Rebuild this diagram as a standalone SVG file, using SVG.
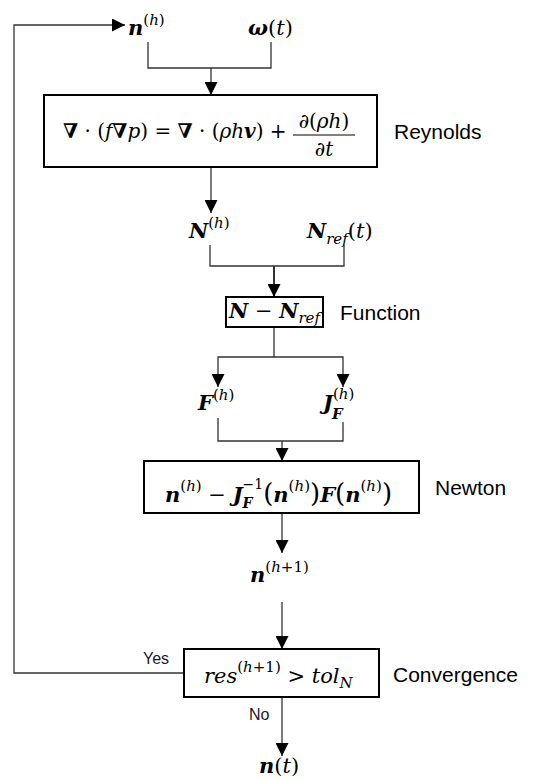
<svg xmlns="http://www.w3.org/2000/svg" width="539" height="781" viewBox="0 0 539 781">
<style>
.m{font-family:"DejaVu Serif","Liberation Serif",serif;font-size:21px;fill:#000}
.bi{font-weight:bold;font-style:italic}
.b{font-weight:bold}
.i{font-style:italic}
.s{font-size:15px}
.ss{font-size:14px}
.lbl{font-family:"Liberation Sans",Arial,sans-serif;font-size:21px;fill:#000}
.yn{font-family:"Liberation Sans",Arial,sans-serif;font-size:16px;fill:#1a1a2a}
.box{fill:#fff;stroke:#000;stroke-width:2}
.c{fill:none;stroke:#333;stroke-width:1.3}
</style>
<defs>
<marker id="ah" markerUnits="userSpaceOnUse" markerWidth="13" markerHeight="13" refX="13" refY="6.5" orient="auto">
<path d="M0,0 L13,6.5 L0,13 Z" fill="#000"/>
</marker>
</defs>
<rect width="539" height="781" fill="#fff"/>
<g id="connectors">
<path class="c" d="M148,42 V68 H271 V42"/>
<path class="c" d="M211,68 V95" marker-end="url(#ah)"/>
<path class="c" d="M211,167 V213" marker-end="url(#ah)"/>
<path class="c" d="M210,245 V266 H344 V245"/>
<path class="c" d="M274,266 V297" marker-end="url(#ah)" style="stroke-width:2"/>
<path class="c" d="M274,327 V357 H218 V387" marker-end="url(#ah)"/>
<path class="c" d="M274,357 H343 V387" marker-end="url(#ah)"/>
<path class="c" d="M218,418 V441 H343 V422"/>
<path class="c" d="M282,441 V461" marker-end="url(#ah)"/>
<path class="c" d="M282,513 V553" marker-end="url(#ah)"/>
<path class="c" d="M282,602 V649" marker-end="url(#ah)"/>
<path class="c" d="M282,697 V756" marker-end="url(#ah)"/>
<path class="c" d="M184,673 H14 V25 H125" marker-end="url(#ah)"/>
<text class="yn" x="143" y="664">Yes</text>
<text class="yn" x="249" y="720">No</text>
</g>
<g id="in-n">
<text class="m" x="128" y="35"><tspan class="bi">n</tspan><tspan class="s" dy="-10">(<tspan class="i">h</tspan>)</tspan></text>
</g>
<g id="in-omega">
<text class="m" x="248" y="35"><tspan class="bi">ω</tspan>(<tspan class="i">t</tspan>)</text>
</g>
<g id="reynolds">
<rect class="box" x="44" y="95" width="333" height="72"/>
<text class="m" x="63" y="138" style="font-size:20px"><tspan class="b">∇</tspan> · (<tspan class="i">f</tspan><tspan class="b">∇</tspan><tspan class="i">p</tspan>) = <tspan class="b">∇</tspan> · (<tspan class="i">ρh</tspan><tspan class="bi">v</tspan>) +</text>
<text class="m" x="324" y="128" text-anchor="middle" style="font-size:20px"><tspan class="i">∂</tspan>(<tspan class="i">ρh</tspan>)</text>
<line x1="293" y1="135" x2="355" y2="135" stroke="#000" stroke-width="1.2"/>
<text class="m" x="324" y="156" text-anchor="middle" style="font-size:20px"><tspan class="i">∂t</tspan></text>
<text class="lbl" x="394" y="139">Reynolds</text>
</g>
<g id="N-h">
<text class="m" x="189" y="238"><tspan class="bi">N</tspan><tspan class="s" dy="-10">(<tspan class="i">h</tspan>)</tspan></text>
</g>
<g id="N-ref">
<text class="m" x="307" y="238"><tspan class="bi">N</tspan><tspan class="s i" dy="6">ref</tspan><tspan dy="-6">(<tspan class="i">t</tspan>)</tspan></text>
</g>
<g id="function">
<rect class="box" x="226" y="297" width="97" height="30"/>
<text class="m" x="274.5" y="318" text-anchor="middle"><tspan class="bi">N</tspan> − <tspan class="bi">N</tspan><tspan class="s i" dy="5">ref</tspan></text>
<text class="lbl" x="340" y="320">Function</text>
</g>
<g id="F-h">
<text class="m" x="198" y="410"><tspan class="bi">F</tspan><tspan class="s" dy="-10">(<tspan class="i">h</tspan>)</tspan></text>
</g>
<g id="J-h">
<text class="m" x="323" y="410"><tspan class="bi">J</tspan><tspan class="s" dy="-11">(<tspan class="i">h</tspan>)</tspan><tspan class="s bi" x="332" dy="20">F</tspan></text>
</g>
<g id="newton">
<rect class="box" x="144" y="461" width="275" height="52"/>
<text class="m" x="165" y="502"><tspan class="bi">n</tspan><tspan class="s" dy="-11">(<tspan class="i">h</tspan>)</tspan><tspan dy="11"> − </tspan><tspan class="bi">J</tspan><tspan class="ss bi" dy="6">F</tspan><tspan class="ss" dx="-10" dy="-19">−1</tspan><tspan font-size="26" dy="13">(</tspan><tspan class="bi">n</tspan><tspan class="s" dy="-11">(<tspan class="i">h</tspan>)</tspan><tspan font-size="26" dy="11">)</tspan><tspan class="bi">F</tspan><tspan font-size="26">(</tspan><tspan class="bi">n</tspan><tspan class="s" dy="-11">(<tspan class="i">h</tspan>)</tspan><tspan font-size="26" dy="11">)</tspan></text>
<text class="lbl" x="435" y="495">Newton</text>
</g>
<g id="n-h1">
<text class="m" x="250" y="582"><tspan class="bi">n</tspan><tspan class="s" dy="-10">(<tspan class="i">h</tspan>+1)</tspan></text>
</g>
<g id="convergence">
<rect class="box" x="184" y="649" width="195" height="48"/>
<text class="m" x="204" y="683" style="font-size:21px"><tspan class="i">res</tspan><tspan class="s" dy="-11">(<tspan class="i">h</tspan>+1)</tspan><tspan dy="11"> &gt; </tspan><tspan class="i">tol</tspan><tspan class="s i" dy="5">N</tspan></text>
<text class="lbl" x="393" y="682">Convergence</text>
</g>
<g id="n-t">
<text class="m" x="259" y="773"><tspan class="bi">n</tspan>(<tspan class="i">t</tspan>)</text>
</g>
</svg>
